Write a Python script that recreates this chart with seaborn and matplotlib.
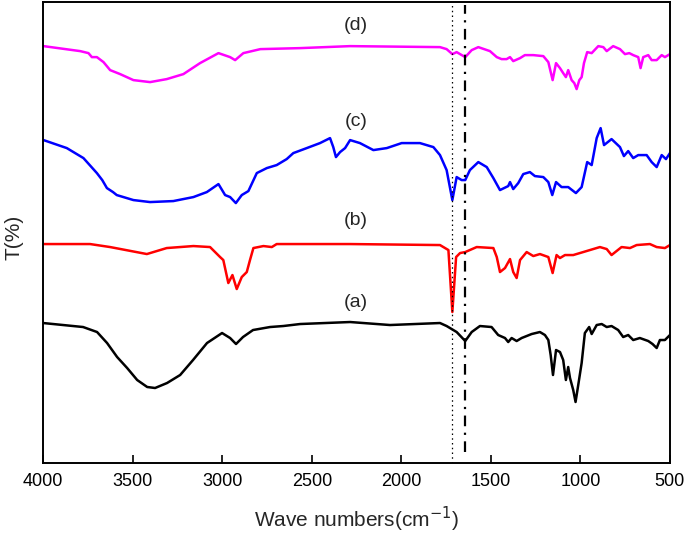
"""FTIR spectra of samples (a)-(d), stacked transmittance curves."""
import matplotlib

matplotlib.use("Agg")
import matplotlib.pyplot as plt
import pandas as pd
import seaborn as sns

# --- spectrum (a), black ---
WN_A = [4000, 3777, 3699, 3643, 3587, 3531, 3475, 3419, 3375, 3308, 3235, 3163, 3085, 3001,
        2956, 2923, 2884, 2828, 2733, 2659, 2565, 2286, 2063, 1784, 1747, 1691, 1643, 1607,
        1561, 1496, 1459, 1421, 1403, 1384, 1356, 1328, 1300, 1272, 1226, 1198, 1179, 1166,
        1153, 1136, 1114, 1096, 1081, 1068, 1058, 1040, 1027, 1012, 993, 975, 951, 937, 909,
        881, 853, 826, 789, 761, 733, 705, 668, 621, 597, 574, 556, 528, 500]
T_A = [140, 136, 131, 120, 106, 95, 83, 76, 75, 80, 88, 103, 120, 130,
       125, 119, 126, 133, 136, 137, 139, 141, 138, 140, 137, 131, 122, 131,
       137, 136, 128, 125, 121, 125, 122, 125, 127, 129, 131, 128, 123, 108,
       88, 113, 111, 103, 83, 96, 85, 73, 61, 78, 100, 130, 136, 129, 138,
       139, 136, 137, 133, 126, 128, 123, 125, 122, 119, 115, 123, 123, 128]

# --- spectrum (b), red ---
WN_B = [3998, 3738, 3626, 3421, 3310, 3161, 3068, 3012, 2994, 2966, 2943, 2919, 2891, 2863,
        2845, 2826, 2770, 2723, 2696, 2286, 1784, 1737, 1715, 1694, 1672, 1643, 1579, 1486,
        1467, 1449, 1421, 1393, 1375, 1356, 1337, 1300, 1263, 1226, 1179, 1155, 1133, 1114,
        1086, 1040, 984, 891, 853, 826, 770, 723, 686, 612, 574, 528, 500]
T_B = [219, 219, 216, 209, 215, 217, 216, 206, 203, 180, 188, 174, 186, 191,
       203, 215, 217, 216, 219, 219, 218, 213, 151, 206, 210, 211, 216, 215,
       206, 191, 195, 204, 191, 185, 203, 211, 207, 209, 206, 190, 208, 205,
       208, 208, 211, 216, 214, 208, 216, 215, 218, 219, 216, 215, 218]

# --- spectrum (c), blue ---
WN_C = [3998, 3868, 3775, 3700, 3670, 3644, 3610, 3589, 3496, 3403, 3273, 3161, 3086, 3021,
        2984, 2956, 2924, 2891, 2854, 2807, 2751, 2696, 2640, 2603, 2528, 2454, 2398, 2380,
        2365, 2342, 2314, 2286, 2231, 2156, 2081, 1998, 1896, 1840, 1821, 1784, 1747, 1715,
        1691, 1663, 1643, 1617, 1570, 1523, 1486, 1449, 1403, 1393, 1375, 1347, 1319, 1282,
        1254, 1207, 1179, 1157, 1136, 1105, 1068, 1025, 993, 962, 937, 909, 887, 868, 826,
        779, 757, 733, 705, 677, 630, 602, 574, 546, 522, 500]
T_C = [323, 315, 305, 290, 283, 275, 271, 268, 263, 261, 262, 266, 271, 279,
       268, 266, 260, 268, 272, 290, 295, 298, 304, 310, 315, 320, 325, 316,
       306, 311, 315, 323, 320, 313, 315, 320, 320, 317, 316, 308, 293, 263,
       286, 283, 283, 293, 301, 296, 285, 273, 277, 281, 274, 280, 289, 291,
       287, 286, 281, 268, 281, 276, 276, 270, 276, 301, 298, 325, 335, 318, 324,
       316, 307, 312, 305, 308, 308, 301, 296, 308, 304, 310]

# --- spectrum (d), magenta ---
WN_D = [3998, 3793, 3747, 3728, 3700, 3663, 3626, 3598, 3570, 3496, 3403, 3310, 3217, 3124,
        3021, 2956, 2928, 2882, 2787, 2565, 2286, 1784, 1747, 1715, 1691, 1643, 1607, 1570,
        1505, 1467, 1440, 1412, 1393, 1375, 1337, 1310, 1263, 1207, 1179, 1155, 1136, 1114,
        1096, 1081, 1068, 1049, 1034, 1021, 1006, 993, 980, 962, 937, 900, 872, 853, 817, 779,
        751, 727, 705, 677, 664, 649, 621, 602, 574, 546, 528, 500]
T_D = [417, 412, 410, 406, 406, 401, 393, 391, 389, 383, 381, 384, 389, 400,
       410, 406, 403, 410, 414, 415, 417, 416, 414, 409, 411, 406, 413, 416,
       412, 406, 404, 404, 406, 402, 405, 408, 408, 407, 401, 383, 400, 395,
       390, 386, 393, 383, 380, 374, 383, 386, 400, 411, 410, 417, 416, 412, 417, 414,
       409, 410, 408, 406, 395, 406, 408, 403, 403, 408, 406, 409]

SAMPLES = ["(a)", "(b)", "(c)", "(d)"]
COLORS = ["black", "#ff0000", "#0000ff", "#ff00ff"]
LABEL_WN = 2253
LABEL_T = [161, 243, 342, 438]
MARK_WN = [1715, 1643]   # dotted C=O line, dash-dot amide line


def main() -> int:
    sns.set_theme(style="ticks")
    plt.rcParams["font.family"] = ["Liberation Sans", "DejaVu Sans"]

    fig = plt.figure(figsize=(6.85, 5.34), dpi=100)
    ax = fig.add_axes([0.063, 0.133, 0.915, 0.863])

    spectra = [(WN_A, T_A), (WN_B, T_B), (WN_C, T_C), (WN_D, T_D)]
    for (wn, t), color in zip(spectra, COLORS):
        df = pd.DataFrame({"wn": wn, "T": t})
        sns.lineplot(data=df, x="wn", y="T", color=color, linewidth=1.8, ax=ax)

    for name, yt in zip(SAMPLES, LABEL_T):
        ax.text(LABEL_WN, yt, name, fontsize=14, ha="center", va="center")

    ax.vlines(MARK_WN[0], 0, 459, color="black", linewidth=0.9, linestyles=[(0, (1.2, 2.6))])
    ax.vlines(MARK_WN[1], 11, 458, color="black", linewidth=1.6,
              linestyles=[(0, (4.8, 2.9, 1, 2.9))])

    ax.set_xlim(4000, 500)
    ax.set_ylim(0, 461)
    ax.set_xticks([4000, 3500, 3000, 2500, 2000, 1500, 1000, 500])
    ax.set_yticks([])
    ax.tick_params(axis="x", direction="in", length=6, width=1.2, labelsize=13, pad=7,
                   colors="black")
    for sp in ax.spines.values():
        sp.set_visible(True)
        sp.set_linewidth(1.4)
        sp.set_color("black")
    ax.set_xlabel("Wave numbers(cm$^{-1}$)", fontsize=15)
    ax.set_ylabel("T(%)", fontsize=15)
    ax.xaxis.set_label_coords(0.5, -0.09)
    ax.yaxis.set_label_coords(-0.032, 0.49)

    fig.savefig("out.png", dpi=100)
    plt.close(fig)
    return 0


if __name__ == "__main__":
    raise SystemExit(main())
